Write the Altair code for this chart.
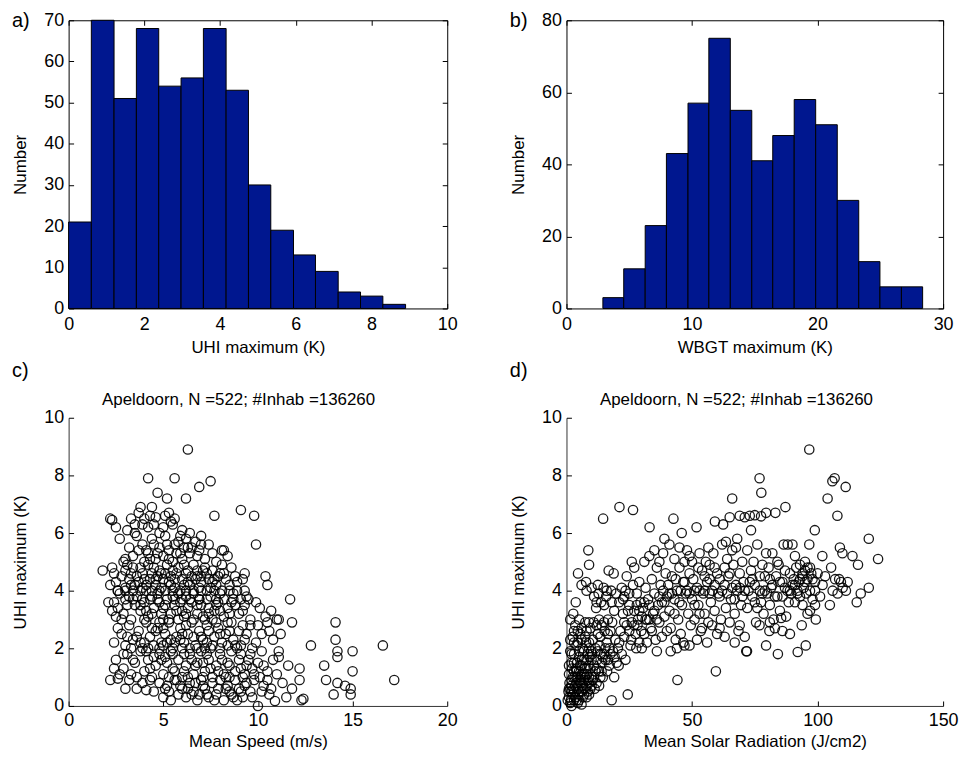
import altair as alt
import pandas as pd

FONT = "Liberation Sans"
NAVY = "#00178F"
W_LEFT, W_RIGHT, H = 381, 379, 290

# ---------------- data ----------------
uhi_edges = [0, 0.60, 1.20, 1.79, 2.38, 2.97, 3.56, 4.16, 4.75, 5.34, 5.94, 6.52, 7.12, 7.71, 8.30, 8.90]
uhi_counts = [21, 70, 51, 68, 54, 56, 68, 53, 30, 19, 13, 9, 4, 3, 1]
wbgt_edges = [2.90, 4.56, 6.27, 7.96, 9.68, 11.34, 13.05, 14.76, 16.43, 18.14, 19.85, 21.57, 23.28, 24.97, 26.68, 28.37]
wbgt_counts = [3, 11, 23, 43, 57, 75, 55, 41, 48, 58, 51, 30, 13, 6, 6]

panel_labels = ["a)", "b)", "c)", "d)"]
scatter_title = "Apeldoorn, N =522; #Inhab =136260"

# panel c: (mean wind speed m/s, UHI max K)
speed_uhi = [
    (6.3, 8.9), (4.2, 7.9), (5.6, 7.9), (7.5, 7.8), (6.9, 7.6), (4.7, 7.4), (5.2, 7.2), (6.2, 7.2),
    (2.2, 6.5), (2.3, 6.45), (2.5, 6.2), (3.1, 6.1), (2.7, 5.8), (3.8, 6.9), (3.7, 6.7), (4.0, 6.5),
    (4.3, 6.6), (4.6, 6.55), (5.1, 6.6), (5.4, 6.4), (5.5, 6.3), (3.5, 6.3), (4.5, 6.3), (5.0, 6.2),
    (5.6, 6.5), (6.0, 6.1), (3.3, 6.5), (7.7, 6.6), (9.1, 6.8), (9.8, 6.6),
    (3.2, 5.5), (3.6, 5.9), (3.9, 5.6), (4.2, 5.3), (4.4, 5.8), (4.8, 5.5), (5.1, 5.9), (5.3, 5.4),
    (5.6, 5.6), (5.9, 5.3), (6.2, 5.8), (6.5, 5.5), (6.8, 5.2), (7.0, 5.9), (7.4, 5.6), (8.1, 5.4),
    (8.4, 5.2), (9.9, 5.6), (3.0, 5.1), (3.4, 5.2), (4.0, 5.0), (4.6, 5.1), (5.0, 5.2), (5.5, 5.0),
    (6.0, 5.1), (6.4, 5.3), (7.2, 5.1), (7.8, 5.0), (2.9, 5.0), (5.8, 5.7), (4.5, 5.6), (3.7, 5.4),
    (6.7, 5.7), (7.0, 5.6), (8.2, 5.4),
    (1.8, 4.7), (2.3, 4.8), (2.5, 4.3), (2.8, 4.5), (3.1, 4.9), (3.3, 4.6), (3.5, 4.2), (3.8, 4.8),
    (4.0, 4.4), (4.2, 4.9), (4.4, 4.6), (4.6, 4.2), (4.8, 4.7), (5.0, 4.4), (5.2, 4.9), (5.4, 4.5),
    (5.6, 4.1), (5.8, 4.8), (6.0, 4.4), (6.2, 4.6), (6.4, 4.2), (6.6, 4.9), (6.8, 4.5), (7.0, 4.3),
    (7.2, 4.8), (7.4, 4.4), (7.6, 4.7), (7.8, 4.2), (8.0, 4.6), (8.3, 4.4), (8.6, 4.8), (8.9, 4.3),
    (9.3, 4.6), (9.2, 4.4), (10.4, 4.5), (10.5, 4.2), (2.6, 4.0), (3.0, 4.1), (3.6, 4.5), (4.1, 4.2),
    (4.5, 4.8), (4.9, 4.1), (5.3, 4.3), (5.7, 4.6), (6.1, 4.9), (6.5, 4.5), (6.9, 4.1), (7.3, 4.6),
    (7.7, 4.4), (8.1, 4.9), (8.5, 4.2), (3.2, 4.4), (3.9, 4.6), (4.7, 4.5), (5.5, 4.7), (6.3, 4.3),
    (7.1, 4.7), (7.9, 4.5), (2.2, 4.2), (2.4, 4.6), (3.4, 4.8), (5.1, 4.6), (6.7, 4.4),
    (2.6, 4.0), (3.0, 4.0), (3.4, 4.0), (3.8, 4.0), (4.1, 4.0), (4.4, 4.0), (4.8, 4.0), (5.1, 4.0),
    (5.5, 4.0), (5.9, 4.0), (6.2, 4.0), (6.6, 4.0), (7.0, 4.0), (7.3, 4.0), (7.7, 4.0), (8.1, 4.0),
    (8.5, 4.0), (8.9, 4.0), (9.3, 4.0),
    (3.0, 3.7), (3.4, 3.7), (3.9, 3.7), (4.3, 3.7), (4.7, 3.7), (5.2, 3.7), (5.6, 3.7), (6.0, 3.7),
    (6.4, 3.7), (6.9, 3.7), (7.3, 3.7), (7.8, 3.7), (8.2, 3.7), (8.7, 3.7), (9.1, 3.7), (9.5, 3.7),
    (2.1, 3.6), (2.3, 3.3), (2.4, 3.6), (2.7, 3.9), (2.9, 3.2), (3.1, 3.5), (3.3, 3.0), (3.6, 3.8),
    (3.8, 3.3), (4.0, 3.6), (4.2, 3.1), (4.5, 3.4), (4.7, 3.9), (4.9, 3.2), (5.1, 3.5), (5.3, 3.0),
    (5.5, 3.8), (5.7, 3.3), (5.9, 3.6), (6.1, 3.1), (6.3, 3.4), (6.6, 3.9), (6.8, 3.2), (7.0, 3.5),
    (7.2, 3.0), (7.5, 3.8), (7.7, 3.3), (7.9, 3.6), (8.2, 3.1), (8.4, 3.4), (8.7, 3.9), (9.0, 3.2),
    (9.3, 3.5), (9.6, 3.0), (9.9, 3.6), (10.4, 3.1), (11.0, 3.0), (11.1, 3.0), (11.7, 3.7), (11.8, 2.9),
    (10.7, 3.3), (3.5, 3.5), (4.4, 3.8), (5.0, 3.0), (6.0, 3.3), (6.5, 3.6), (7.4, 3.4), (8.0, 3.9),
    (8.8, 3.5), (3.2, 3.8), (4.1, 3.3), (5.4, 3.2), (6.2, 3.8), (7.1, 3.1), (7.8, 3.5), (8.5, 3.2),
    (9.4, 3.8), (2.6, 3.4), (10.1, 3.4), (4.8, 3.6), (5.8, 3.9), (6.9, 3.7),
    (2.4, 2.2), (2.8, 2.5), (3.0, 2.1), (3.2, 2.8), (3.4, 2.3), (3.7, 2.6), (3.9, 2.0), (4.1, 2.9),
    (4.3, 2.4), (4.5, 2.1), (4.7, 2.7), (4.9, 2.2), (5.1, 2.5), (5.3, 2.9), (5.5, 2.0), (5.7, 2.4),
    (5.9, 2.7), (6.1, 2.2), (6.3, 2.5), (6.5, 2.9), (6.7, 2.1), (6.9, 2.6), (7.1, 2.3), (7.3, 2.8),
    (7.5, 2.0), (7.7, 2.4), (7.9, 2.7), (8.1, 2.2), (8.3, 2.5), (8.6, 2.9), (8.8, 2.1), (9.0, 2.6),
    (9.3, 2.3), (9.6, 2.8), (9.9, 2.2), (10.2, 2.5), (10.5, 2.9), (10.8, 2.3), (11.2, 2.5), (11.1, 1.9),
    (12.8, 2.1), (14.1, 2.9), (14.1, 2.3), (16.6, 2.1), (3.3, 2.0), (4.0, 2.2), (4.8, 2.0), (5.6, 2.2),
    (6.4, 2.0), (7.2, 2.0), (8.0, 2.0), (8.9, 2.0), (9.7, 2.0), (3.6, 2.4), (4.6, 2.6), (5.4, 2.3),
    (6.2, 2.8), (7.0, 2.4), (7.8, 2.9), (8.5, 2.6), (9.2, 2.8), (2.6, 2.7), (10.0, 2.8), (10.6, 2.6),
    (5.0, 2.7), (6.0, 2.5), (7.4, 2.6),
    (2.5, 1.6), (2.9, 1.3), (3.1, 1.8), (3.3, 1.1), (3.5, 1.5), (3.8, 1.9), (4.0, 1.2), (4.2, 1.6),
    (4.4, 1.0), (4.6, 1.4), (4.8, 1.8), (5.0, 1.1), (5.2, 1.5), (5.4, 1.9), (5.6, 1.2), (5.8, 1.6),
    (6.0, 1.0), (6.2, 1.4), (6.4, 1.8), (6.6, 1.1), (6.8, 1.5), (7.0, 1.9), (7.2, 1.2), (7.4, 1.6),
    (7.6, 1.0), (7.8, 1.4), (8.0, 1.8), (8.2, 1.1), (8.4, 1.5), (8.6, 1.9), (8.8, 1.2), (9.0, 1.6),
    (9.2, 1.0), (9.4, 1.4), (9.6, 1.8), (9.8, 1.1), (10.0, 1.5), (10.2, 1.9), (10.5, 1.2), (10.8, 1.6),
    (11.0, 1.1), (11.1, 1.7), (11.6, 1.4), (12.2, 1.3), (13.5, 1.4), (14.2, 1.7), (14.2, 1.9), (15.0, 1.2),
    (15.0, 1.9), (3.6, 1.0), (4.5, 1.7), (5.5, 1.3), (6.5, 1.6), (7.5, 1.3), (8.5, 1.0), (9.5, 1.6),
    (4.1, 1.9), (5.1, 1.7), (6.1, 1.8), (7.1, 1.5), (8.1, 1.6), (9.1, 1.3), (10.3, 1.4), (2.7, 1.1),
    (2.2, 0.9), (2.6, 0.95), (3.6, 0.6), (4.1, 0.55), (4.5, 0.5), (4.8, 0.8), (5.0, 0.3), (5.2, 0.7),
    (5.4, 0.2), (5.6, 0.9), (5.8, 0.4), (6.0, 0.6), (6.2, 0.3), (6.4, 0.8), (6.6, 0.5), (6.8, 0.2),
    (7.0, 0.9), (7.2, 0.6), (7.4, 0.3), (7.6, 0.8), (7.8, 0.4), (8.0, 0.9), (8.2, 0.2), (8.4, 0.7),
    (8.6, 0.4), (8.8, 0.9), (9.0, 0.6), (9.2, 0.3), (9.4, 0.8), (9.6, 0.5), (9.8, 0.9), (10.0, 0.0),
    (10.3, 0.7), (10.6, 0.4), (10.9, 0.17), (11.3, 0.8), (11.8, 0.6), (12.2, 0.9), (12.3, 0.2), (12.4, 0.25),
    (13.6, 0.9), (14.0, 0.4), (14.2, 0.8), (14.6, 0.7), (14.9, 0.6), (14.9, 0.4), (17.2, 0.9), (5.3, 0.5),
    (6.3, 0.6), (7.3, 0.4), (8.3, 0.6), (9.3, 0.7), (4.3, 0.9), (5.7, 0.9), (6.7, 0.8), (7.7, 0.2),
    (8.7, 0.3), (3.9, 0.8), (10.5, 0.9), (11.5, 0.3),
    (3.7, 4.3), (4.3, 4.4), (4.9, 4.6), (5.6, 4.4), (6.3, 4.7), (7.0, 4.5), (7.6, 4.3), (8.2, 4.6),
    (8.8, 4.5), (3.9, 4.1), (4.6, 4.4), (5.4, 4.2), (6.1, 4.2), (6.8, 4.7), (7.5, 4.1),
    (3.8, 3.5), (4.4, 3.2), (5.0, 3.4), (5.6, 3.5), (6.2, 3.2), (6.8, 3.5), (7.4, 3.2), (8.0, 3.3),
    (8.6, 3.6), (9.2, 3.3), (4.0, 3.0), (4.8, 2.9), (5.8, 3.0), (6.6, 3.0), (7.6, 3.0), (8.4, 2.9),
    (3.8, 2.2), (4.4, 2.7), (5.2, 2.2), (5.9, 2.3), (6.6, 2.4), (7.3, 2.2), (8.0, 2.5), (8.7, 2.3),
    (9.4, 2.5), (4.2, 2.0), (5.0, 2.1), (6.0, 2.0), (6.8, 2.0), (7.6, 2.1), (8.4, 2.1), (9.1, 2.1),
    (4.3, 1.3), (4.9, 1.6), (5.5, 1.8), (6.1, 1.2), (6.7, 1.4), (7.3, 1.8), (7.9, 1.2), (8.5, 1.4),
    (9.1, 1.8), (9.7, 1.3), (5.3, 1.0), (6.3, 1.0), (7.1, 1.0), (8.3, 1.0), (9.3, 1.1), (10.1, 1.0),
    (5.1, 0.6), (5.9, 0.7), (6.5, 0.4), (7.1, 0.7), (7.9, 0.6), (8.5, 0.5), (9.1, 0.5), (9.7, 0.3),
    (10.2, 0.5), (6.9, 0.4), (8.9, 0.2), (10.7, 0.6),
    (3.0, 4.7), (3.3, 4.2), (2.8, 3.0), (2.5, 3.1), (3.1, 2.4), (2.9, 1.8), (3.4, 1.6), (3.2, 0.9),
    (3.0, 0.6), (2.4, 1.3),
    (4.1, 5.4), (4.7, 5.3), (5.2, 5.6), (5.7, 5.3), (6.3, 5.5), (6.9, 5.4), (7.6, 5.3), (4.3, 5.1),
    (5.3, 5.1), (6.1, 5.5), (3.5, 6.0), (4.2, 6.2), (4.8, 6.0), (5.3, 6.7), (5.9, 5.9), (6.4, 6.0),
    (3.9, 6.3), (4.4, 6.9),
]

# panel d: (mean solar radiation J/cm2, UHI max K)
solar_uhi = [
    (1, 0.3), (1.5, 0.6), (2, 0.9), (2.5, 0.4), (3, 1.2), (3.5, 0.7), (4, 0.2), (4.5, 1.0), (5, 0.5),
    (5.5, 1.4), (6, 0.8), (6.5, 0.3), (7, 1.1), (7.5, 0.6), (8, 1.6), (8.5, 0.9), (9, 0.4), (9.5, 1.3),
    (2, 1.5), (3, 1.8), (4, 2.1), (5, 1.7), (6, 2.3), (7, 1.9), (8, 2.6), (9, 2.2), (1.5, 1.9),
    (2.5, 2.4), (3.5, 2.8), (4.5, 2.2), (5.5, 2.5), (6.5, 2.0), (7.5, 2.9), (8.5, 1.8), (9.5, 2.7),
    (1, 1.1), (2, 0.5), (3, 0.2), (4, 0.8), (5, 1.2), (6, 0.5), (7, 0.9), (8, 0.3), (9, 1.0), (10, 0.7),
    (1.2, 0.8), (2.2, 1.3), (3.2, 1.0), (4.2, 1.5), (5.2, 0.9), (6.2, 1.6), (7.2, 1.3), (8.2, 1.1),
    (9.2, 1.7), (0.8, 0.5), (1.8, 0.2), (2.8, 0.6), (3.8, 1.3), (4.8, 0.4), (5.8, 1.0), (6.8, 0.6),
    (7.8, 2.2), (8.8, 1.4), (9.8, 1.9), (3.7, 3.6), (4.6, 4.6), (3, 2.6), (2.7, 3.2), (5, 3.0),
    (1.5, 3.0), (8.7, 5.4), (9, 4.9), (7.8, 4.3), (6, 4.2), (8, 4.0), (4.5, 0.1), (2, 0.0), (6, 0.05),
    (10.5, 0.9), (11, 1.4), (11.5, 2.0), (12, 0.8), (12.5, 2.5), (13, 1.2), (13.5, 1.8), (14, 2.8),
    (14.5, 1.0), (15, 3.5), (15.5, 1.6), (16, 2.2), (16.5, 3.0), (17, 1.4), (17.5, 2.6), (18, 0.2),
    (18.5, 1.9), (19, 3.3), (19.5, 2.3), (20, 1.5), (10.8, 2.9), (11.8, 3.4), (12.8, 3.9), (13.8, 3.6),
    (14.8, 4.1), (15.8, 3.8), (16.8, 4.7), (17.8, 4.0), (18.8, 4.6), (19.8, 3.9), (10.2, 1.8), (11.2, 0.6),
    (12.2, 1.6), (13.2, 2.1), (14.2, 1.5), (15.2, 2.6), (16.2, 1.2), (17.2, 2.0), (18.2, 2.9), (19.2, 1.7),
    (14.6, 6.5), (12.5, 4.2), (11, 3.8), (13, 3.0), (16, 4.0), (18, 3.6), (10, 4.1), (12, 3.6),
    (20.5, 2.0), (21.1, 6.9), (21.5, 2.6), (22, 1.8), (22.5, 3.2), (23, 2.4), (23.5, 4.0), (24, 2.8),
    (24.4, 0.4), (25, 3.5), (25.5, 2.1), (26.5, 6.8), (26, 2.9), (26.5, 4.2), (27, 3.3), (27.5, 2.5),
    (28, 3.9), (28.5, 3.0), (29, 2.2), (29.5, 3.6), (21, 3.6), (22, 4.1), (23, 3.8), (24, 4.5),
    (25, 3.9), (26, 5.0), (27, 4.8), (28, 3.5), (29, 4.3), (30, 3.1), (20.8, 1.4), (23.5, 1.6),
    (25.8, 2.3), (27.8, 2.0), (29.8, 2.6), (22.5, 3.7), (24.5, 3.3), (28.3, 2.8),
    (30.5, 3.4), (31, 2.5), (31.5, 4.1), (32, 3.0), (32.5, 3.7), (33.1, 6.2), (33.5, 2.7), (34, 4.4),
    (34.5, 3.2), (35, 3.9), (35.5, 2.3), (36, 4.8), (36.5, 3.5), (37, 2.9), (37.5, 4.2), (38, 3.6),
    (38.5, 5.3), (39, 3.1), (39.5, 4.6), (40, 2.6), (31, 5.0), (33, 5.2), (35, 5.4), (37, 5.0),
    (39, 5.8), (30, 2.0), (32, 2.2), (34, 2.6), (36, 1.9), (38, 2.4), (40, 3.8), (33, 3.5), (36, 3.0),
    (38.5, 4.0), (31.5, 3.0),
    (40.5, 4.2), (41, 3.3), (41.5, 2.7), (42, 4.5), (42.6, 6.5), (43, 3.7), (43.5, 2.3), (44, 4.0),
    (44.2, 0.9), (44.5, 3.0), (45, 4.8), (45.5, 2.5), (45.9, 6.0), (46, 3.5), (46.5, 4.3), (47, 2.1),
    (47.5, 3.9), (48, 5.4), (48.5, 3.2), (49, 4.6), (49.5, 2.8), (50, 3.7), (41, 5.6), (43, 5.1),
    (45, 5.5), (47, 5.0), (49, 5.2), (41.5, 1.9), (44, 2.0), (46.5, 2.2), (49, 2.1), (42, 3.9),
    (45.5, 4.0), (48, 4.0), (43.5, 4.4),
    (50.5, 4.4), (51, 3.0), (51.8, 6.2), (52, 4.1), (52.5, 3.5), (53, 5.3), (53.5, 2.6), (54, 4.7),
    (54.5, 3.9), (55, 3.2), (55.5, 5.0), (56, 4.3), (56.5, 2.9), (57, 4.9), (57.5, 3.6), (58, 4.0),
    (58.5, 5.3), (59, 3.3), (59.1, 6.4), (59.5, 1.2), (60, 4.6), (52, 2.3), (54, 2.7), (56, 2.2),
    (58, 2.8), (60, 2.5), (51, 4.0), (53, 4.0), (55, 4.0), (57, 4.4), (59, 4.8), (50, 5.0), (52.5, 4.8),
    (56.5, 5.5),
    (60.5, 3.9), (61, 4.4), (61.5, 3.0), (62, 5.6), (62.4, 6.3), (63, 4.8), (63.5, 3.4), (64, 5.1),
    (64.5, 4.5), (65, 6.55), (65.5, 3.7), (66, 7.2), (66, 5.4), (66.5, 4.9), (67, 3.2), (67.5, 4.2),
    (68, 5.8), (68.5, 2.6), (69, 6.6), (69, 4.6), (69.5, 3.5), (70, 5.0), (61, 2.7), (63, 2.4),
    (65, 2.9), (67, 2.2), (69, 2.8), (62, 4.0), (64, 3.9), (66, 4.1), (68, 4.0), (70, 3.8), (63.5, 5.7),
    (67.5, 5.5),
    (70.5, 4.3), (71, 2.4), (71.6, 1.9), (72, 5.4), (72, 3.4), (73, 6.6), (73.5, 4.7), (74, 3.8),
    (74.5, 5.0), (75, 4.2), (75.5, 2.9), (76, 5.6), (76.9, 7.9), (77.6, 7.4), (76.9, 2.8), (77, 4.0),
    (77.5, 3.6), (78, 4.9), (78.5, 3.2), (79, 4.5), (79.5, 5.3), (80, 3.9), (71, 6.55), (73.5, 6.1),
    (75, 6.62), (77.5, 6.58), (79.5, 6.7), (80.8, 2.6), (72.5, 4.0), (74, 4.4), (78, 3.9), (71.9, 1.9),
    (76, 3.4), (79.5, 2.1),
    (80.5, 4.8), (81, 3.5), (81.5, 4.1), (82, 5.3), (82.5, 3.0), (83.2, 6.7), (83.5, 4.5), (84, 3.8),
    (84.2, 1.8), (84.5, 4.9), (85, 3.3), (85.5, 3.05), (86, 4.3), (86.5, 5.6), (87.2, 6.9), (87.5, 3.1),
    (88, 4.0), (88.1, 5.6), (88.5, 3.6), (89, 4.6), (89.5, 3.9), (90, 5.6), (81, 2.9), (83, 2.7),
    (86, 2.6), (89, 2.5), (82, 4.2), (87, 4.7), (90, 4.2), (84, 5.0), (86, 3.8),
    (90.5, 4.4), (91, 3.6), (91.5, 4.8), (92, 4.0), (92.1, 1.87), (92.5, 4.3), (93, 3.8), (93.7, 2.8),
    (94, 4.5), (94.5, 4.1), (95, 4.7), (95.3, 2.1), (95.5, 3.9), (96, 4.4), (96.7, 5.6), (96.7, 8.9),
    (97, 4.0), (97.5, 4.6), (98, 3.7), (98.9, 6.1), (99, 4.3), (99.3, 3.0), (100, 4.6), (91, 5.2),
    (93, 4.9), (95, 5.0), (97, 3.3), (99, 3.5), (94, 3.5), (96, 3.2),
    (101.9, 5.2), (104, 7.2), (104.9, 3.5), (105.4, 4.8), (105.9, 7.8), (106.8, 7.9), (107.9, 6.6),
    (108.6, 4.4), (108.9, 5.5), (109.3, 4.3), (109.9, 5.3), (111.2, 7.6), (111.3, 4.0), (113.9, 5.2),
    (115.6, 3.6), (116.1, 4.9), (117.2, 3.9), (120.4, 5.8), (120.4, 4.1), (124.1, 5.1), (102, 4.2),
    (103, 4.5), (106, 4.0), (107, 4.4), (110, 4.1), (112, 4.3), (101, 3.8), (108, 3.9),
    (0.5, 0.2), (1, 0.6), (1.5, 0.1), (2, 0.7), (2.5, 1.0), (3, 0.5), (3.5, 0.3), (4, 1.0), (4.5, 0.6),
    (5, 0.2), (5.5, 0.8), (6, 1.1), (6.5, 0.7), (7, 0.4), (7.5, 1.0), (8, 0.7), (8.5, 0.5), (9, 0.8),
    (9.5, 0.6), (10, 1.0),
    (1, 1.4), (2, 1.8), (3, 1.5), (4, 1.2), (5, 1.9), (6, 1.4), (7, 1.6), (8, 1.3), (9, 2.0), (10, 1.6),
    (11, 1.0), (12, 1.3), (13, 0.7), (14, 1.2), (15, 1.8),
    (1.5, 2.3), (3, 2.2), (4.5, 2.6), (6, 2.7), (7.5, 2.4), (9, 2.9), (10.5, 2.3), (12, 2.8), (13.5, 2.4),
    (15, 2.9), (16.5, 2.5),
    (11.5, 1.2), (12.5, 1.9), (13.5, 1.0), (14.5, 1.7), (15.5, 2.0), (16.5, 1.6), (17.5, 1.8), (19, 1.0),
    (21, 2.2), (23, 2.9), (25, 2.6), (27, 2.8), (29, 3.3), (31, 3.6), (33, 3.0), (35, 3.3), (37, 3.8),
    (39, 3.6), (41, 3.9), (43, 3.2), (45, 3.6), (47, 4.3), (49, 3.9), (51, 3.5), (53, 3.2), (55, 4.5),
    (57, 3.9), (59, 4.2), (61, 3.8), (63, 4.2), (65, 4.6), (67, 3.7), (69, 4.1), (71, 4.0), (73, 4.3),
    (75, 3.6), (77, 4.5), (79, 4.0), (81, 4.4), (83, 3.8), (85, 4.3), (87, 4.1), (89, 4.0), (91, 4.2),
    (93, 4.4), (95, 4.3), (97, 4.8), (99, 4.0), (92, 3.9), (94, 4.6), (96, 4.8), (98, 4.4),
]

# ---------------- helpers ----------------
def tick_axis(orient, values):
    return alt.Axis(orient=orient, values=values, labels=False, title=None, domain=False,
                    ticks=True, tickSize=5, offset=-5, grid=False, tickColor="black", tickWidth=1)


def text_layer(text, x, y, size, align="left"):
    return alt.Chart(pd.DataFrame({"t": [text]})).mark_text(
        align=align, baseline="middle", font=FONT, fontSize=size, color="black"
    ).encode(x=alt.value(x), y=alt.value(y), text="t:N")


def main_axis(values, title, domain, lpad, tpad):
    kw = dict(values=values, title=title, ticks=False, domain=domain, grid=False,
              labelPadding=lpad, titlePadding=tpad, format="d", labelFlush=False, labelOverlap=False)
    if domain:
        kw["domainColor"] = "#333333"
    return alt.Axis(**kw)


def hist_panel(edges, counts, xdom, xvals, ydom, yvals, xtitle, lab, width):
    df = pd.DataFrame({"x0": edges[:-1], "x1": edges[1:], "n": counts})
    xs = alt.Scale(domain=xdom, nice=False, zero=False)
    ys = alt.Scale(domain=ydom, nice=False)
    base = alt.Chart(df)
    bars = base.mark_rect(color=NAVY, stroke="black", strokeWidth=1).encode(
        x=alt.X("x0:Q", scale=xs, axis=main_axis(xvals, xtitle, False, 7, 6)),
        x2="x1:Q",
        y=alt.Y("n:Q", scale=ys, axis=main_axis(yvals, "Number", False, 5, 14)),
    )
    g1 = base.mark_rect(opacity=0).encode(
        x=alt.X("x0:Q", scale=xs, axis=tick_axis("bottom", xvals)), x2="x1:Q",
        y=alt.Y("n:Q", scale=ys, axis=tick_axis("left", yvals)),
    )
    g2 = base.mark_rect(opacity=0).encode(
        x=alt.X("x0:Q", scale=xs, axis=tick_axis("top", xvals)), x2="x1:Q",
        y=alt.Y("n:Q", scale=ys, axis=tick_axis("right", yvals)),
    )
    return alt.layer(bars, g1, g2, text_layer(lab, -57, 1, 20)).resolve_axis(
        x="independent", y="independent"
    ).properties(width=width, height=H, view=alt.ViewBackground(stroke="black", strokeWidth=1))


def scatter_panel(points, xdom, xvals, xtitle, lab, width):
    df = pd.DataFrame(points, columns=["x", "y"])
    xs = alt.Scale(domain=xdom, nice=False, zero=False)
    ys = alt.Scale(domain=[0, 10], nice=False)
    yvals = [0, 2, 4, 6, 8, 10]
    base = alt.Chart(df)
    pts = base.mark_point(shape="circle", filled=False, color="black", size=88, strokeWidth=1.3,
                          opacity=0.9).encode(
        x=alt.X("x:Q", scale=xs, axis=main_axis(xvals, xtitle, True, 6, 4)),
        y=alt.Y("y:Q", scale=ys, axis=main_axis(yvals, "UHI maximum (K)", True, 5, 14)),
    )
    g1 = base.mark_point(opacity=0).encode(
        x=alt.X("x:Q", scale=xs, axis=tick_axis("bottom", xvals)),
        y=alt.Y("y:Q", scale=ys, axis=tick_axis("left", yvals)),
    )
    return alt.layer(
        pts, g1,
        text_layer(lab, -57, -47, 20),
        text_layer(scatter_title, 171, -18, 17, align="center"),
    ).resolve_axis(x="independent", y="independent").properties(
        width=width, height=H, view=alt.ViewBackground(stroke="transparent"),
    )


pa = hist_panel(uhi_edges, uhi_counts, [0, 10], [0, 2, 4, 6, 8, 10], [0, 70],
                [0, 10, 20, 30, 40, 50, 60, 70], "UHI maximum (K)", panel_labels[0], W_LEFT)
pb = hist_panel(wbgt_edges, wbgt_counts, [0, 30], [0, 10, 20, 30], [0, 80],
                [0, 20, 40, 60, 80], "WBGT maximum (K)", panel_labels[1], W_RIGHT)
pc = scatter_panel(speed_uhi, [0, 20], [0, 5, 10, 15, 20], "Mean Speed (m/s)", panel_labels[2], W_LEFT)
pd_ = scatter_panel(solar_uhi, [0, 150], [0, 50, 100, 150], "Mean Solar Radiation (J/cm2)",
                    panel_labels[3], W_RIGHT)

chart = alt.concat(pa, pb, pc, pd_, columns=2, spacing={"row": 110, "column": 120}, bounds="flush").properties(
    padding={"left": 3, "top": 0, "right": 0, "bottom": 0},
    background="white",
).configure_axis(
    labelFont=FONT, titleFont=FONT, labelFontSize=18, titleFontSize=17,
    labelColor="black", titleColor="black", titleFontWeight="normal",
).configure_view(stroke="black")

chart.save("out.html", embed_options={"renderer": "svg", "actions": False})
